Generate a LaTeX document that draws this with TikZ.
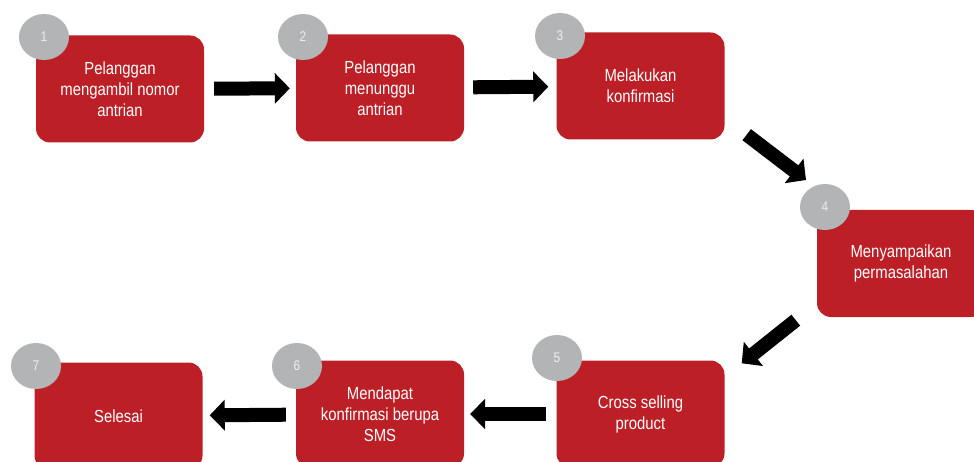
\documentclass[tikz,border=0pt]{standalone}
\usepackage{fontspec}
\setmainfont{Liberation Sans}
\newfontfamily\narrowfont[FakeStretch=0.85]{Liberation Sans}
\usetikzlibrary{arrows.meta,calc,shapes.geometric}
\definecolor{boxred}{HTML}{BC1F26}
\definecolor{numgray}{HTML}{B2B4B6}
\definecolor{numtext}{HTML}{EEEEEE}
\tikzset{
  stepbox/.style={fill=boxred,rounded corners=14pt,minimum width=168pt,minimum height=107pt,
    inner sep=0pt,text=white,align=center,font=\narrowfont\fontsize{17.5}{21}\selectfont},
  num/.style={ellipse,fill=numgray,minimum width=50pt,minimum height=46pt,inner sep=0pt,
    text=numtext,font=\narrowfont\fontsize{14}{16}\selectfont},
  bigarrow/.style={line width=14pt,-{Triangle[width=30pt,length=15pt]}}
}
\begin{document}
\begin{tikzpicture}[x=1pt,y=-1pt,>=Latex]
\useasboundingbox (0,0) rectangle (974,462);
\clip (0,0) rectangle (974,462);
% top row
\node[stepbox] (b1) at (120,89) {Pelanggan\\mengambil nomor\\antrian};
\node[stepbox] (b2) at (380,88) {Pelanggan\\menunggu\\antrian};
\node[stepbox] (b3) at (640.5,86) {Melakukan\\konfirmasi};
% right
\node[stepbox] (b4) at (901,263.5) {Menyampaikan\\permasalahan};
% bottom row
\node[stepbox] (b5) at (640.5,414) {Cross selling\\product};
\node[stepbox] (b6) at (380,414) {Mendapat\\konfirmasi berupa\\SMS};
\node[stepbox] (b7) at (118.5,416) {Selesai};
% numbers
\foreach \i/\x/\y in {1/44/37,2/303/37,3/560/36,4/825/207,5/557/358,6/297/366,7/36/366}
  \node[num] (n\i) at (\x,\y) {\i};
% arrows
\draw[bigarrow,shorten <=10pt,shorten >=6pt] (b1) -- (b2);
\draw[bigarrow,shorten <=9pt,shorten >=8pt] (b2) -- (b3);
\draw[bigarrow] ($(b3.south east)+(22,-5)$) -- ($(n4.center)+(-19,-27)$);
\draw[bigarrow] ($(b4.south west)+(-21,3)$) -- ($(b5.north east)+(17,3)$);
\draw[bigarrow,shorten <=10pt,shorten >=6pt] (b5) -- (b6);
\draw[bigarrow,shorten <=10pt,shorten >=7pt] (b6) -- (b7);
\end{tikzpicture}
\end{document}
